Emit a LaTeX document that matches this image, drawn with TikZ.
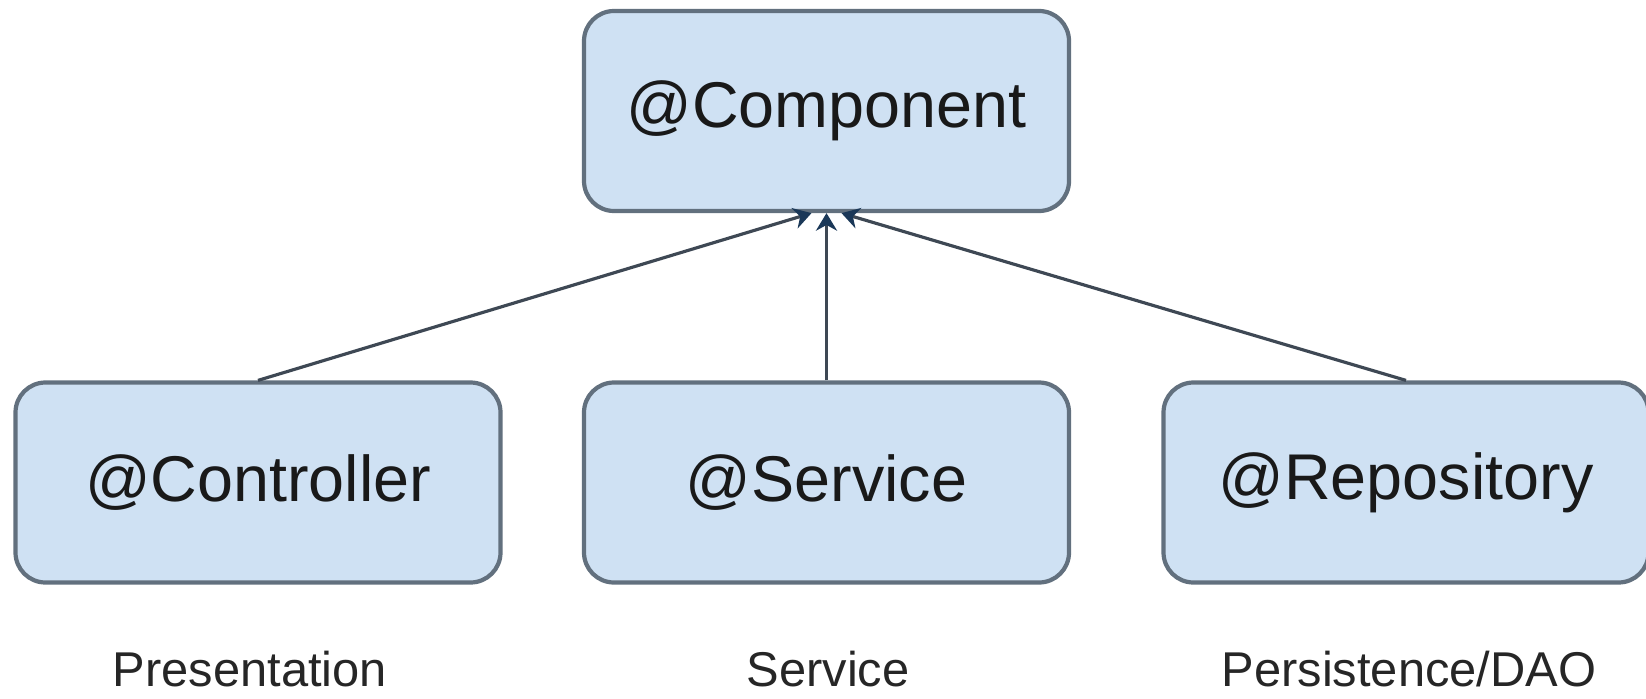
\documentclass[tikz,border=0pt]{standalone}
\usepackage{fontspec}
\setmainfont{Liberation Sans}
\usepackage{tikz}
\usetikzlibrary{arrows.meta}

\definecolor{boxfill}{RGB}{207,225,243}
\definecolor{boxline}{RGB}{98,112,126}
\definecolor{linkline}{RGB}{62,72,84}
\definecolor{tipcol}{RGB}{27,56,88}

\tikzset{
    annot/.style = {draw=boxline, line width=1.2pt, fill=boxfill, rounded corners=0.3cm,
        minimum width=4.85cm, minimum height=2cm, inner sep=0pt,
        font={\fontsize{18.4}{22}\selectfont}, text=black!90},
    layer/.style = {anchor=base, inner sep=0pt, font={\fontsize{13.9}{17}\selectfont}, text=black!85},
    link/.style = {draw=linkline, line width=0.9pt, -{Stealth[length=5pt,width=6pt,color=tipcol,fill=tipcol]}}
}

\begin{document}
\begin{tikzpicture}
        \useasboundingbox (0,0) rectangle (16.46,6.98);

        \node[annot] (comp) at (8.265, 5.87) {@Component};


        \node[annot] (ctrl) at (2.58, 2.155) {@Controller};
        \node[annot] (serv) at (8.265, 2.155) {@Service};
        \node[annot] (repo) at (14.06, 2.155) {@Repository};


        \node[layer] (presLabel) at (2.5, 0.12) {Presentation};
        \node[layer] (servLabel) at (8.28, 0.12) {Service};
        \node[layer] (daoLabel) at (14.09, 0.12) {Persistence/DAO};

        
        \draw[link] (ctrl.north) -- ([xshift=-0.15cm]comp.south);
        \draw[link] (serv.north) -- (comp.south);
        \draw[link] (repo.north) -- ([xshift=0.15cm]comp.south);
    \end{tikzpicture}
\end{document}
